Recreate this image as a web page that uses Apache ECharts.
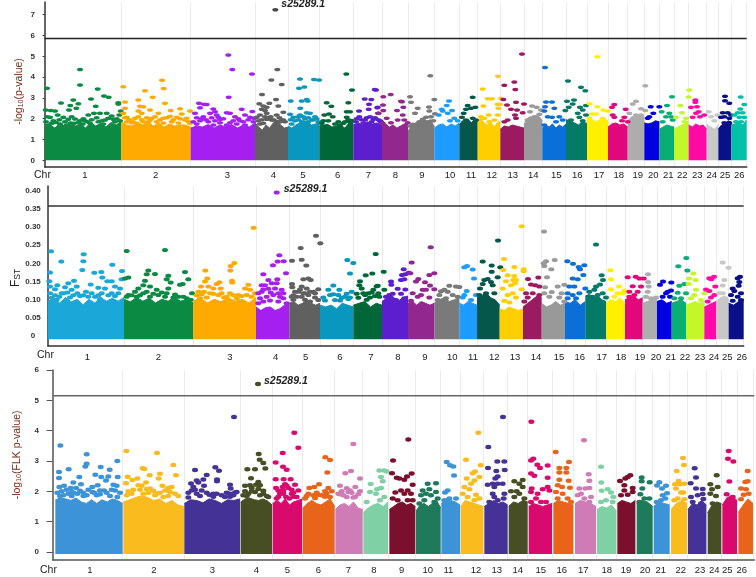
<!DOCTYPE html>
<html><head><meta charset="utf-8">
<style>html,body{margin:0;padding:0;background:#fff}#c{width:756px;height:577px}</style>
<script src="https://cdn.jsdelivr.net/npm/echarts@6/dist/echarts.min.js"></script>
</head><body><div id="c"></div>
<script>
const chrNames=['1','2','3','4','5','6','7','8','9','10','11','12','13','14','15','16','17','18','19','20','21','22','23','24','25','26'];
const snpName='s25289.1';

/* panel 1: -log10(p-value) */
const p1Ticks=[0,1,2,3,4,5,6,7];
const p1Threshold=5.86;
const p1Snp=[826,7.24];
const p1Bounds=[134,364,572,765,864,958,1060,1146,1224,1303,1378,1433,1501,1572,1627,1698,1761,1824,1883,1933,1978,2022,2066,2120,2155,2194,2240];
const p1LabelPos=[255,467,682,820,909,1013,1105,1186,1266,1350,1413,1475,1538,1600,1669,1732,1797,1856,1913,1960,2005,2047,2092,2135,2175,2218];
const p1Colors=['#0b8a43','#ffaa00','#a41ff0','#606060','#0a97bf','#006838','#5b1fd0','#92278f','#7a7a7a','#1e9bff','#04574a','#ffce00','#9b1b60','#999999','#0a6fd8','#067a68','#fff000','#e0087a','#adadad','#0000e0','#09ae74','#c4f72a','#ff0aa5','#c8c8c8','#0a1088','#00c0a8'];
const p1Tops=[
[1.6,1.72,1.55,1.8,1.62,1.85,1.65,1.75,1.55,1.82,1.65,1.78,1.6,1.82,1.7,1.88],
[1.85,1.7,1.65,1.82,1.7,1.85,1.65,1.8,1.6,1.75,1.65,1.7,1.7,1.6],
[1.55,1.65,1.6,1.72,1.55,1.7,1.6,1.72,1.55,1.7,1.6,1.8],
[1.8,1.6,1.45,1.7,1.55,1.8,1.95,1.7,1.55,1.6],
[1.65,1.55,1.7,1.8,1.9,1.85,1.7,1.75,1.8],
[1.65,1.7,1.72,1.6,1.65,1.7,1.55,1.8,1.85],
[1.7,1.8,1.7,1.85,1.75,1.8,1.7],
[1.7,1.75,1.6,1.7,1.55,1.65,1.75,1.8],
[1.4,1.65,1.8,1.9,2.0,1.9,1.95,1.6],
[1.55,1.7,1.75,1.6,1.75,1.65,1.8],
[1.7,1.9,1.85,1.95,1.8,2.0,1.95],
[1.9,2.05,1.8,1.7,1.85,1.6,1.8,1.9],
[1.5,1.65,1.6,1.7,1.65,1.6,1.55],
[1.7,2.0,2.1,2.05,2.15,2.1,1.9],
[1.55,1.7,1.6,1.75,1.55,1.7,1.6,1.75],
[1.95,1.9,1.8,1.7,1.9,1.75],
[1.9,2.0,1.85,1.95,2.0,1.9],
[1.6,1.75,1.8,1.7,1.75,1.6],
[1.9,2.1,2.15,2.2,2.1],
[1.8,1.75,1.8,1.9,1.85],
[1.5,1.6,1.7,1.65,1.6],
[1.5,1.6,1.7,1.75,1.9],
[1.7,1.6,1.75,1.65,1.7,1.5],
[1.75,1.6,1.5,1.7],
[1.5,1.7,1.75,1.9,1.85],
[1.7,1.75,1.8,1.7,1.95]];
const p1Points=[
[141,3.46,240,4.37,240,3.62,293,3.43,273,2.95,312,3.09,326,3.03,183,2.76,220,2.9,211,2.64,235,2.72,207,2.42,229,2.5,287,2.6,355,2.77,355,2.71,137,2.42,152,2.39,165,2.37,173,2.18,141,2.1,150,2.07,138,1.86,160,1.9,190,2.07,205,1.97,225,1.99,240,1.9,265,2.18,282,2.26,300,2.26,320,2.26,362,2.37,358,2.18,315,1.94,335,2.13,270,1.78,255,1.9,295,1.86,345,1.86,200,1.7,180,1.75,310,1.75],
[370,3.54,486,3.85,491,3.45,435,3.35,458,3.03,415,2.9,375,2.8,495,2.74,420,2.6,430,2.58,375,2.5,450,2.42,415,2.37,512,2.4,540,2.48,570,2.37,475,2.26,370,2.26,425,2.26,510,2.12,545,2.23,490,2.02,530,2.07,380,2.07,405,2.02,450,1.94,555,1.94,430,1.86,470,1.86,395,1.81,515,1.86,570,1.78],
[685,5.06,697,4.36,756,4.15,686,3.03,597,2.74,612,2.69,620,2.68,600,2.53,585,2.26,640,2.47,645,2.34,650,2.18,655,2.07,660,1.97,630,2.26,680,2.29,690,2.26,725,2.45,757,2.35,705,2.1,735,2.18,750,2.07,610,2.1,625,1.86,690,1.81,600,1.9,720,1.9,762,2.02,580,1.86,660,1.81],
[832,4.36,814,3.86,845,3.64,786,3.16,828,2.93,778,2.72,808,2.74,835,2.61,790,2.61,800,2.55,785,2.45,795,2.39,800,2.26,780,2.18,850,2.31,830,2.18,800,1.97,770,2.07,850,1.94,815,1.94,790,1.78,830,1.86],
[900,3.91,942,3.89,957,3.86,897,3.46,913,3.53,872,2.85,905,2.85,920,2.93,923,2.85,901,2.5,870,2.21,900,2.18,920,2.29,930,2.26,880,2.07,895,2.1,910,2.1,945,2.1,935,1.94,955,1.86,905,1.86],
[1039,4.15,1056,3.38,980,2.77,994,2.6,1045,2.77,1050,2.34,1040,2.33,973,2.18,987,2.23,998,2.1,1040,2.07,1015,1.86,1050,1.86,1030,1.78,965,1.78,1055,1.91],
[1124,3.4,1094,2.95,1114,2.92,1107,2.7,1106,2.45,1077,2.37,1132,2.53,1134,2.26,1110,2.1,1078,2.1,1095,1.94,1120,1.97,1068,1.86,1140,1.9,1128,3.38,1133,2.55,1143,1.86],
[1172,3.16,1150,3.06,1150,2.39,1136,2.26,1203,2.84,1210,2.55,1191,2.39,1208,2.18,1160,2.02,1173,1.81,1193,1.94,1213,1.94,1223,1.81,1206,2.81,1149,2.66,1148,1.78],
[1291,4.07,1230,3.06,1233,2.79,1303,2.92,1253,2.5,1245,2.26,1287,2.56,1288,2.37,1305,2.24,1238,1.73,1258,1.86,1278,2.07,1268,1.97,1293,2.1,1300,1.9,1231,1.65],
[1347,2.85,1328,2.37,1340,2.64,1356,2.39,1325,2.45,1316,2.18,1363,2.02,1373,1.9,1343,2.26,1350,1.9],
[1418,3.03,1403,2.63,1426,2.55,1413,2.5,1398,2.45,1391,2.26,1386,2.07,1418,2.02,1428,1.94,1398,1.94],
[1494,4.04,1448,3.43,1463,2.96,1476,2.96,1450,2.61,1493,2.69,1500,2.69,1495,2.5,1503,2.98,1466,2.18,1493,2.18,1443,2.1,1453,2.02,1468,1.86,1483,1.94],
[1566,5.11,1543,3.77,1513,3.61,1546,3.41,1510,2.93,1548,2.79,1572,2.71,1521,2.66,1533,2.45,1551,2.42,1568,2.29,1545,2.18,1523,1.94,1513,1.86,1548,2.02],
[1596,2.61,1610,2.55,1590,2.34,1623,2.42,1618,2.21,1603,2.1,1583,1.94,1613,1.94,1593,1.86],
[1635,4.46,1638,2.8,1656,2.8,1635,2.58,1663,2.5,1643,2.1,1678,2.1,1656,2.07,1633,2.37,1688,1.94,1668,1.86,1633,1.7],
[1704,3.81,1743,3.51,1756,3.35,1701,2.84,1722,2.9,1718,2.71,1706,2.55,1740,2.55,1758,2.63,1696,2.39,1748,2.42,1733,2.26,1758,2.18,1738,2.07,1713,1.94,1748,1.9],
[1792,4.98,1769,2.72,1792,2.58,1810,2.42,1823,2.37,1776,2.23,1788,2.23,1768,2.02,1808,2.02],
[1843,2.68,1836,2.55,1877,2.45,1838,2.18,1843,2.07,1873,2.07,1866,1.9,1883,1.86],
[1936,3.59,1908,2.84,1898,2.71,1923,2.48,1936,2.39,1888,2.26,1908,2.18,1923,2.18],
[1952,2.58,1978,2.58,1960,2.26,1948,2.1,1943,2.02],
[2016,3.06,2001,2.64,1985,2.34,2008,2.26,1998,2.1,2013,2.1,2018,1.94,1988,1.86],
[2068,3.38,2066,3.04,2041,2.64,2046,2.29,2028,2.07,2058,2.02,2053,1.86],
[2086,2.9,2086,2.79,2073,2.55,2091,2.58,2096,2.34,2088,2.26,2113,2.18,2078,2.07,2100,2.1],
[2126,2.34,2152,2.18,2133,2.1,2143,1.9],
[2175,3.08,2175,2.87,2188,2.74,2168,2.29,2183,2.29,2193,2.18,2173,2.1,2163,2.07,2188,2.02,2173,1.81,2188,1.78],
[2222,3.04,2233,2.68,2221,2.47,2213,2.29,2228,2.29,2203,2.18,2233,2.07,2218,2.07,2208,1.86,2223,1.86]];
const p1Band=[
[145,1.7,155,1.78,168,1.82,178,1.95,195,1.85,212,1.8,222,1.78,235,1.82,248,1.75,262,1.85,275,1.95,290,2.05,305,1.9,325,2.02,340,1.98,350,2.0,360,1.9,215,2.1,250,2.0],
[375,2.05,388,1.95,400,1.85,415,2.1,425,1.95,440,2.05,455,2.02,465,2.1,480,1.95,500,2.05,520,1.95,540,2.0,560,2.02,380,1.85,410,1.78,445,1.85,490,1.8,535,1.8,565,1.85],
[590,2.05,605,2.0,618,1.95,635,2.05,645,1.9,670,2.0,700,1.9,715,2.0,730,1.85,745,1.95,760,1.85,590,1.75,640,1.7,680,1.7,710,1.75,735,1.7],
[775,1.9,785,1.95,795,2.1,805,2.0,812,2.1,820,1.95,838,2.05,845,1.95,855,1.85,780,1.75,840,1.85],
[872,1.95,885,1.9,895,1.95,915,2.0,925,2.05,940,1.95,950,2.0,875,1.75,925,1.85],
[970,1.9,985,1.9,1005,1.75,1020,1.7,1035,1.85,1045,1.95],
[1070,2.0,1085,1.95,1100,2.05,1125,2.05,1115,1.85,1090,1.8,1135,1.95]];

/* panel 2: FST */
const p2Ticks=[0,0.05,0.10,0.15,0.20,0.25,0.30,0.35,0.40];
const p2Threshold=0.358;
const p2Snp=[830,0.395];
const p2Bounds=[144,372,580,768,868,960,1060,1146,1224,1303,1378,1431,1499,1569,1625,1695,1756,1818,1875,1928,1971,2015,2058,2113,2148,2186,2231];
const p2LabelPos=[262,475,690,827,917,1020,1113,1194,1275,1357,1419,1483,1545,1608,1677,1739,1805,1863,1920,1968,2012,2055,2100,2142,2182,2225];
const p2Colors=['#1ba8d8','#0a8a42','#ffaa00','#a41ff0','#606060','#0a97bf','#006838','#5b1fd0','#92278f','#7a7a7a','#1e9bff','#04574a','#ffce00','#9b1b60','#999999','#0a6fd8','#067a68','#fff000','#e0087a','#adadad','#0000e0','#09ae74','#c4f72a','#ff0aa5','#c8c8c8','#0a1088'];
const p2Tops=[
[0.096,0.104,0.091,0.106,0.094,0.101,0.086,0.101,0.091,0.106,0.096,0.104,0.096,0.106],
[0.101,0.094,0.106,0.096,0.104,0.091,0.101,0.096,0.106,0.096,0.101,0.091],
[0.096,0.106,0.091,0.101,0.094,0.106,0.096,0.101,0.091,0.106],
[0.08,0.07,0.078,0.08,0.07,0.075,0.085,0.09],
[0.09,0.095,0.085,0.09,0.1,0.09,0.085,0.09],
[0.085,0.08,0.085,0.075,0.09,0.085,0.08],
[0.085,0.09,0.095,0.08,0.09,0.085],
[0.095,0.105,0.11,0.095,0.105,0.11],
[0.09,0.095,0.085,0.095,0.09,0.085,0.09],
[0.09,0.1,0.105,0.095,0.1,0.105],
[0.09,0.085,0.095,0.09,0.085],
[0.105,0.11,0.12,0.105,0.1,0.085],
[0.075,0.07,0.08,0.075,0.07,0.075],
[0.08,0.09,0.1,0.11,0.105],
[0.09,0.08,0.085,0.095,0.085,0.09],
[0.095,0.09,0.1,0.085,0.095],
[0.11,0.115,0.105,0.11,0.1,0.095],
[0.09,0.1,0.095,0.105,0.09],
[0.1,0.105,0.11,0.1,0.105],
[0.09,0.095,0.1,0.105],
[0.095,0.1,0.09,0.095],
[0.09,0.095,0.1,0.09],
[0.085,0.09,0.095,0.09,0.095],
[0.08,0.085,0.09,0.095],
[0.095,0.105,0.11,0.1],
[0.09,0.085,0.095,0.1]];
const p2Points=[
[153,.233,150,.175,184,.205,251,.225,250,.206,247,.182,283,.174,304,.176,307,.161,337,.196,366,.179,148,.151,172,.14,165,.129,150,.136,195,.134,222,.152,205,.145,230,.136,215,.127,322,.151,335,.151,272,.142,295,.133,315,.131,345,.136,360,.131,365,.156,258,.122,185,.118,240,.11,265,.108,295,.112,345,.11,150,.118,210,.106],
[380,.234,495,.237,445,.18,465,.171,440,.17,555,.176,505,.166,385,.161,375,.158,565,.156,435,.152,500,.156,548,.143,430,.14,415,.131,512,.147,505,.131,576,.118,450,.136,470,.127,540,.141,385,.113,430,.118,475,.113,500,.118,410,.108,550,.108,520,.106,450,.108],
[761,.298,703,.201,692,.193,691,.18,616,.18,622,.158,696,.152,697,.147,658,.148,650,.143,640,.131,662,.131,603,.136,615,.15,625,.136,745,.141,735,.131,750,.127,595,.122,605,.115,630,.118,690,.118,765,.118,715,.113,655,.113,740,.113,680,.108,600,.104],
[838,.222,851,.206,833,.205,819,.195,858,.173,790,.17,805,.154,832,.156,830,.145,785,.14,795,.14,815,.145,845,.127,825,.131,785,.122,835,.118,800,.108,820,.113,790,.095,850,.104,860,.09,835,.095,780,.104],
[948,.276,961,.255,902,.242,876,.207,905,.21,919,.194,876,.143,877,.134,925,.158,910,.156,932,.154,905,.136,920,.131,955,.129,885,.122,895,.122,940,.122,910,.118,875,.108,905,.108,925,.113,945,.106,955,.099,930,.095,890,.108],
[1042,.209,1060,.201,1050,.172,1000,.139,985,.127,1018,.127,1040,.116,1055,.122,970,.106,990,.113,1015,.113,1035,.108,1005,.099,1050,.106],
[1127,.226,1117,.172,1097,.167,1080,.151,1130,.137,1078,.14,1085,.131,1120,.127,1105,.118,1095,.113,1070,.116,1135,.118,1110,.106,1151,.177,1133,.138,1153,.127,1138,.108],
[1211,.184,1173,.15,1174,.141,1216,.17,1206,.168,1226,.174,1213,.156,1203,.154,1193,.13,1216,.128,1168,.113,1178,.116,1203,.116,1213,.104,1158,.108,1188,.099],
[1292,.244,1235,.202,1231,.173,1303,.173,1288,.168,1255,.157,1248,.15,1275,.148,1290,.139,1268,.127,1303,.129,1278,.127,1238,.118,1263,.113,1288,.106,1253,.108,1233,.097],
[1348,.138,1368,.136,1378,.135,1333,.127,1323,.123,1343,.122,1358,.113,1318,.113,1338,.104,1373,.108,1313,.099],
[1401,.193,1393,.189,1418,.183,1422,.158,1400,.124,1393,.113,1428,.113,1413,.099,1388,.106],
[1494,.263,1448,.205,1475,.194,1501,.189,1475,.177,1493,.162,1463,.157,1453,.154,1448,.143,1473,.149,1478,.14,1440,.131,1458,.118,1483,.118,1438,.113],
[1565,.302,1512,.212,1543,.19,1571,.184,1571,.178,1510,.182,1523,.167,1543,.165,1540,.154,1548,.154,1518,.151,1533,.14,1545,.145,1508,.131,1523,.113,1565,.129,1538,.118,1548,.106,1528,.092,1513,.097],
[1584,.157,1615,.161,1593,.142,1606,.14,1618,.136,1578,.118,1598,.118,1583,.106,1618,.113,1573,.095,1608,.099],
[1632,.288,1664,.209,1638,.206,1631,.2,1633,.193,1654,.184,1641,.162,1673,.136,1693,.141,1635,.134,1655,.121,1685,.118,1633,.118,1648,.108,1678,.106,1693,.095],
[1702,.206,1719,.199,1736,.19,1740,.184,1753,.195,1750,.168,1718,.158,1733,.156,1708,.136,1723,.136,1756,.131,1703,.118,1738,.118,1718,.113,1703,.104,1728,.104],
[1788,.252,1805,.167,1809,.154,1800,.142,1788,.136,1783,.127,1768,.122,1808,.118,1818,.106,1793,.113,1778,.108],
[1831,.181,1833,.156,1857,.136,1833,.129,1873,.125,1853,.118,1868,.118,1843,.108],
[1883,.162,1907,.163,1918,.158,1931,.158,1898,.137,1923,.136,1888,.122,1913,.122,1903,.113,1888,.108],
[1944,.17,1944,.149,1946,.136,1943,.122,1938,.108,1968,.106,1953,.104],
[1989,.15,2014,.147,1980,.141,2013,.125,2003,.122,1998,.118,1988,.108,2010,.108],
[2059,.215,2035,.192,2062,.18,2053,.143,2038,.138,2033,.119,2058,.118,2023,.104,2043,.104],
[2080,.172,2067,.158,2087,.154,2066,.143,2088,.127,2113,.118,2083,.113,2073,.104,2103,.099],
[2128,.159,2142,.163,2134,.156,2146,.136,2118,.128,2128,.124,2143,.113,2133,.106,2123,.095],
[2168,.202,2186,.188,2173,.154,2168,.139,2158,.118,2168,.118,2176,.104],
[2220,.163,2213,.159,2218,.149,2216,.138,2198,.131,2203,.124,2223,.118,2193,.113,2213,.108,2198,.097,2223,.099]];
const p2Band=[
[155,.105,165,.112,178,.108,190,.118,202,.12,220,.112,232,.118,250,.112,275,.118,285,.108,305,.118,325,.112,335,.118,355,.118,170,.1,300,.102],
[380,.108,395,.112,420,.112,440,.122,460,.116,485,.12,495,.108,525,.114,535,.108,560,.104,572,.1,405,.122],
[590,.112,612,.122,640,.116,665,.118,672,.106,700,.112,710,.104,725,.11,755,.108,620,.106],
[775,.118,790,.128,805,.13,812,.12,840,.108,850,.118,810,.098,775,.09],
[880,.112,900,.128,915,.118,930,.122,945,.118,880,.1,915,.1],
[975,.098,1000,.115,1025,.105,1045,.102,1020,.098],
[1075,.105,1090,.118,1115,.12,1125,.11,1100,.1]];

/* panel 3: -log10(FLK p-value) */
const p3Ticks=[0,1,2,3,4,5,6];
const p3Threshold=5.15;
const p3Snp=[774,5.54];
const p3Starts=[166,370,553,722,818,908,1006,1090,1168,1248,1324,1382,1453,1526,1586,1660,1725,1791,1852,1910,1961,2013,2064,2123,2167,2215];
const p3Ends=[368,552,720,816,906,1004,1088,1164,1246,1322,1380,1450,1523,1583,1656,1720,1788,1849,1906,1958,2009,2061,2119,2164,2211,2259];
const p3LabelPos=[270,462,637,769,862,955,1045,1122,1205,1283,1345,1428,1490,1553,1622,1685,1750,1820,1878,1935,1982,2042,2100,2143,2182,2225];
const p3Colors=['#3d93d8','#fabb1e','#443297','#474e24','#d90a6e','#e8641a','#cf7cb6','#7fd0a4','#7a0f2e','#1e7a5a','#3d93d8','#fabb1e','#443297','#474e24','#d90a6e','#e8641a','#cf7cb6','#7fd0a4','#7a0f2e','#1e7a5a','#3d93d8','#fabb1e','#443297','#474e24','#d90a6e','#e8641a'];
const p3Tops=[
[1.72,1.78,1.75,1.7,1.78,1.65,1.6,1.72,1.6,1.72,1.65,1.75,1.7,1.6],
[1.65,1.72,1.8,1.85,1.8,1.7,1.75,1.6,1.7,1.55,1.5],
[1.6,1.72,1.7,1.62,1.75,1.7,1.6,1.72,1.7,1.75],
[1.65,1.75,1.78,1.72,1.7,1.75,1.68,1.55],
[1.6,1.7,1.6,1.75,1.55,1.65,1.7,1.75],
[1.45,1.6,1.7,1.6,1.55,1.65,1.75,1.5],
[1.4,1.55,1.6,1.5,1.65,1.45,1.4],
[1.3,1.45,1.55,1.6,1.5,1.65],
[1.4,1.5,1.6,1.65,1.55,1.6,1.5],
[1.35,1.55,1.6,1.5,1.6,1.7,1.45],
[1.6,1.75,1.7,1.65,1.55],
[1.5,1.7,1.65,1.6,1.55,1.5],
[1.5,1.6,1.7,1.6,1.65,1.55],
[1.5,1.65,1.6,1.7,1.65],
[1.5,1.6,1.55,1.5,1.55,1.6],
[1.6,1.7,1.65,1.6,1.55],
[1.6,1.7,1.65,1.6,1.5],
[1.4,1.5,1.45,1.55,1.35],
[1.6,1.7,1.65,1.6,1.7],
[1.6,1.7,1.65,1.5],
[1.5,1.65,1.6,1.55],
[1.4,1.6,1.7,1.6],
[1.4,1.6,1.55,1.7,1.55],
[1.3,1.55,1.65,1.6],
[1.55,1.8,1.85,1.7],
[1.3,1.55,1.75,1.6]];
const p3Points=[
[181,3.51,177,2.64,177,2.44,206,2.73,260,3.22,260,2.91,256,2.82,352,3.0,302,2.8,329,2.71,286,2.55,304,2.47,325,2.49,353,2.47,318,2.36,220,2.29,238,2.47,243,2.23,178,2.14,192,2.18,212,2.11,228,2.11,277,2.14,293,2.2,340,2.22,350,2.18,215,1.98,205,1.92,300,2.03,312,2.03,277,1.98,345,2.03,260,1.87,352,1.81,232,1.92,290,1.87,190,1.87],
[379,3.33,471,3.26,520,2.87,428,2.76,433,2.74,383,2.48,528,2.53,378,2.27,449,2.53,480,2.58,476,2.42,397,2.37,412,2.42,438,2.29,415,2.2,425,2.18,450,2.09,487,2.18,515,2.14,505,2.11,495,2.03,380,1.87,470,1.92,430,1.92,525,1.92,490,1.81],
[702,4.45,585,2.7,646,2.79,657,2.68,620,2.54,651,2.39,651,2.33,610,2.39,590,2.36,573,2.26,595,2.29,612,2.18,580,2.14,690,2.22,692,2.09,705,1.96,690,1.92,575,2.03,628,1.89,650,1.92,665,1.87,590,1.92,675,1.81,710,1.98],
[776,3.23,779,3.04,790,2.93,742,2.73,765,2.73,796,2.75,753,2.43,775,2.31,735,2.18,750,2.2,768,2.22,780,2.2,755,2.11,765,1.98,745,1.92,730,1.87,790,1.92,805,1.81],
[883,3.93,895,3.44,848,3.26,827,2.95,849,2.81,860,2.71,827,2.4,851,2.4,872,2.4,828,2.11,885,2.22,855,2.23,848,2.14,865,2.11,850,2.03,895,2.03,840,1.92,875,1.92,858,1.81,890,1.81,830,1.76,868,1.76],
[976,3.12,990,3.03,982,2.62,957,2.23,928,2.11,943,2.14,985,2.11,995,2.0,980,1.92,955,1.89,925,1.92,940,1.87,965,1.87,915,1.76,990,1.81],
[1060,3.56,1053,2.67,1036,2.6,1080,2.42,1020,2.18,1066,2.14,1050,2.03,1025,2.0,1045,1.98,1080,2.0,1015,1.92,1030,1.87,1065,1.81,1040,1.81],
[1153,2.69,1143,2.47,1148,2.33,1112,2.24,1131,2.07,1110,1.98,1143,2.11,1153,1.81,1128,1.92,1140,1.71,1100,1.65,1138,2.69,1160,2.65],
[1225,3.71,1179,3.02,1176,2.6,1235,2.59,1221,2.49,1213,2.38,1198,2.42,1190,2.45,1238,2.22,1186,1.96,1203,2.03,1223,2.03,1213,1.92,1233,1.92,1178,1.76,1193,1.71,1223,1.71,1238,1.71],
[1283,2.25,1308,2.27,1268,2.03,1288,2.07,1308,1.98,1278,1.92,1263,1.87,1293,1.87,1313,1.76,1273,1.71,1303,1.65,1258,1.6],
[1340,2.97,1350,2.86,1360,2.82,1362,2.52,1343,2.03,1335,1.96,1348,1.76,1368,1.76,1333,1.71],
[1435,3.93,1398,3.04,1442,2.86,1425,2.65,1418,2.6,1400,2.42,1438,2.47,1423,2.36,1413,2.25,1393,2.14,1408,2.07,1388,1.92,1428,1.89,1403,1.81,1438,1.76,1423,1.71],
[1509,4.45,1465,3.46,1492,2.98,1513,2.98,1464,2.77,1489,2.67,1514,2.7,1493,2.49,1486,2.42,1478,2.25,1463,2.22,1508,2.25,1493,2.25,1483,2.14,1478,1.92,1483,1.81,1513,1.92,1511,1.76,1468,1.65,1493,1.71],
[1568,2.37,1543,2.33,1558,2.25,1568,2.14,1533,2.0,1550,2.0,1558,1.92,1573,1.76,1543,1.81],
[1594,4.29,1600,3.07,1593,3.02,1612,2.88,1620,2.77,1643,2.85,1643,2.45,1593,2.59,1603,2.51,1595,2.09,1593,1.98,1613,1.92,1628,2.07,1643,2.14,1648,2.03,1608,1.76,1638,1.65,1593,1.65,1623,1.65],
[1667,3.3,1707,2.97,1678,2.77,1699,2.77,1678,2.62,1699,2.62,1678,2.38,1706,2.35,1673,2.2,1710,2.12,1686,2.14,1668,1.98,1688,1.92,1703,1.76,1673,1.76,1713,1.65],
[1752,3.68,1766,2.56,1768,2.35,1768,2.11,1756,2.09,1738,2.09,1743,1.92,1773,1.81,1733,1.87,1753,1.76,1768,1.65],
[1803,2.81,1804,2.29,1805,2.02,1823,2.07,1833,1.96,1840,1.81,1818,1.71,1803,1.65,1838,1.65],
[1891,2.53,1883,2.47,1876,2.42,1860,2.34,1873,2.2,1898,2.11,1873,2.03,1898,1.98,1883,1.89,1863,1.87],
[1925,2.46,1925,2.33,1949,2.3,1927,2.09,1921,1.9,1933,1.76,1948,1.76,1918,1.65],
[1978,2.3,1971,2.19,1998,2.18,1986,2.09,2001,1.94,1988,1.87,1996,1.76,1970,1.65,1983,1.71],
[2049,3.1,2052,2.87,2030,2.67,2036,2.34,2025,2.23,2040,2.23,2053,2.25,2028,2.09,2043,1.96,2050,1.96,2023,1.71,2053,1.74,2033,1.76],
[2084,2.76,2088,2.46,2072,2.27,2108,2.08,2108,1.91,2110,1.75,2088,2.09,2073,1.81,2093,1.87,2078,1.65,2103,1.6],
[2150,2.53,2131,2.23,2153,2.14,2136,2.07,2131,1.92,2148,1.85,2138,1.6],
[2186,3.33,2184,3.07,2200,2.98,2188,2.32,2180,1.9,2198,1.81],
[2243,2.67,2243,2.33,2236,2.31,2223,2.09,2238,2.07,2246,1.92,2231,1.89,2223,1.74,2228,1.38,2243,1.6]];
const p3Band=[
[172,1.95,185,2.0,200,2.05,220,1.95,240,2.02,250,1.95,265,2.05,283,1.95,300,1.9,320,1.95,335,2.05,360,1.95,180,1.85,215,1.85,250,1.85,330,1.85],
[385,2.0,400,2.05,420,2.05,440,2.08,460,2.02,480,1.95,510,1.98,535,1.85,395,1.92,445,1.95,465,1.87,505,1.85],
[565,1.95,585,2.05,605,2.03,620,1.95,640,1.92,680,1.95,700,1.87,565,1.8,600,1.85,640,1.82,690,1.82],
[735,2.0,755,2.0,775,2.08,790,2.02,800,1.85,740,1.85,780,1.87],
[835,2.03,860,2.18,875,2.05,880,1.95,850,1.92,835,1.82,880,1.82],
[920,1.85,950,1.95,975,2.0,945,1.78,975,1.82],
[1020,1.9,1040,2.1,1055,1.95,1075,1.9,1060,1.8]];

const panels=[
 {top:2,bottom:167,minX:134,maxX:2240,minY:-0.32,maxY:7.61,base:0,ticks:p1Ticks,thr:p1Threshold,snp:p1Snp,snpColor:'#444',
  starts:p1Bounds.slice(0,26),ends:p1Bounds.slice(1),labels:p1LabelPos,colors:p1Colors,tops:p1Tops,points:p1Points,band:p1Band,size:[6,3.5],
  fmt:v=>String(v),labelMargin:12,tickLen:2,thrColor:'#222',axisColor:'#333',xMargin:3,
  name:'{a|-log}{s|10}{a|(p-value)}',nameColor:'#7a2c18',nameSize:10.5,nameGap:20,namePad:[0,14,0,0],chrY:176,chrX:43,snpOff:[-2,-6]},
 {top:186,bottom:346,minX:144,maxX:2231,minY:-0.0275,maxY:0.4129,base:-0.009,ticks:p2Ticks,thr:p2Threshold,snp:p2Snp,snpColor:'#a41ff0',
  starts:p2Bounds.slice(0,26),ends:p2Bounds.slice(1),labels:p2LabelPos,colors:p2Colors,tops:p2Tops,points:p2Points,band:p2Band,size:[6,4],
  fmt:v=>v===0?'0':v.toFixed(2),labelMargin:15,tickLen:0,thrColor:'#333',axisColor:'#333',xMargin:6,
  name:'{b|F}{s|ST}',nameColor:'#222',nameSize:12,nameGap:26,namePad:[0,24,0,0],chrY:356,chrX:46,snpOff:[-1,-3]},
 {top:370,bottom:559.7,minX:158,maxX:2263,minY:-0.254,maxY:6,base:-0.066,ticks:p3Ticks,thr:p3Threshold,snp:p3Snp,snpColor:'#474e24',
  starts:p3Starts,ends:p3Ends,labels:p3LabelPos,colors:p3Colors,tops:p3Tops,points:p3Points,band:p3Band,size:[6,4.5],
  fmt:v=>String(v),labelMargin:16,tickLen:6,thrColor:'#666',axisColor:'#555',xMargin:6,
  name:'{a|-log}{s|10}{a|(FLK p-value)}',nameColor:'#7a2c18',nameSize:10.5,nameGap:30,namePad:[0,0,0,20],chrY:571,chrX:49,snpOff:[-2,-3]}
];

const grid=[],xAxis=[],yAxis=[],series=[],graphic=[];
panels.forEach((p,i)=>{
  grid.push({left:p.minX/3,width:(p.maxX-p.minX)/3,top:p.top,height:p.bottom-p.top,containLabel:false,outerBoundsMode:'none'});
  const lbl=p.labels;
  xAxis.push({type:'value',gridIndex:i,min:p.minX,max:p.maxX,position:'bottom',
    axisLine:{show:true,onZero:false,lineStyle:{color:p.axisColor,width:1.5}},
    axisTick:{show:false,customValues:p.ends},
    splitLine:{show:true,lineStyle:{color:'#ececec',width:1}},
    axisLabel:{show:true,customValues:lbl,margin:p.xMargin,color:'#222',fontSize:9.5,fontFamily:'Liberation Sans',
      hideOverlap:false,showMinLabel:true,showMaxLabel:true,
      formatter:v=>chrNames[lbl.indexOf(v)]}});
  yAxis.push({type:'value',gridIndex:i,min:p.minY,max:p.maxY,
    name:p.name,nameLocation:'middle',nameGap:p.nameGap,nameRotate:90,nameMoveOverlap:false,
    nameTextStyle:{color:p.nameColor,padding:p.namePad,rich:{
      a:{fontSize:p.nameSize,color:p.nameColor,fontFamily:'Liberation Sans'},
      b:{fontSize:p.nameSize,color:p.nameColor,fontFamily:'Liberation Sans'},
      s:{fontSize:p.nameSize-3.5,color:p.nameColor,fontFamily:'Liberation Sans',padding:[3,0,0,0]}}},
    axisLine:{show:true,onZero:false,lineStyle:{color:p.axisColor,width:1.5}},
    axisTick:{show:p.tickLen>0,length:p.tickLen,customValues:p.ticks,lineStyle:{color:p.axisColor,width:1}},
    splitLine:{show:false},
    axisLabel:{show:true,customValues:p.ticks,margin:p.labelMargin,align:'center',color:'#333',fontSize:8,fontWeight:'bold',fontFamily:'Liberation Sans',
      showMinLabel:true,showMaxLabel:true,formatter:p.fmt}});
  const base={xAxisIndex:i,yAxisIndex:i,silent:true,animation:false};
  chrNames.forEach((c,k)=>{
    const hs=p.tops[k],s=p.starts[k],e=p.ends[k],col=p.colors[k];
    series.push({...base,type:'line',name:'Chr'+c+' block',symbol:'none',smooth:false,z:2,clip:false,
      data:hs.map((h,j)=>[s+(e-s)*j/(hs.length-1),h]),
      lineStyle:{color:col,width:1},itemStyle:{color:col},areaStyle:{color:col,opacity:1,origin:p.base}});
    const flat=p.points[k].concat(p.band[k]||[]);
    const pts=[];for(let j=0;j<flat.length;j+=2)pts.push([flat[j],flat[j+1]]);
    series.push({...base,type:'scatter',name:'Chr'+c,symbol:'circle',symbolSize:p.size,z:3,clip:false,
      data:pts,itemStyle:{color:col,opacity:1}});
  });
  series.push({...base,type:'line',name:'threshold',symbol:'none',z:4,
    data:[[p.minX,p.thr],[p.maxX,p.thr]],lineStyle:{color:p.thrColor,width:1.5}});
  series.push({...base,type:'scatter',name:snpName,symbol:'circle',symbolSize:p.size,z:5,clip:false,
    data:[p.snp],itemStyle:{color:p.snpColor,opacity:1},
    label:{show:true,position:'right',formatter:snpName,offset:p.snpOff,color:'#222',fontSize:10.5,fontWeight:'bold',fontStyle:'italic',fontFamily:'Liberation Sans'}});
  graphic.push({type:'text',left:p.chrX-9,top:p.chrY-6,silent:true,style:{text:'Chr',fill:'#222',fontSize:10.5,fontFamily:'Liberation Sans'}});
});
const chart=echarts.init(document.getElementById('c'),null,{renderer:'canvas'});
chart.setOption({animation:false,backgroundColor:'#fff',grid,xAxis,yAxis,series,graphic});
</script></body></html>
